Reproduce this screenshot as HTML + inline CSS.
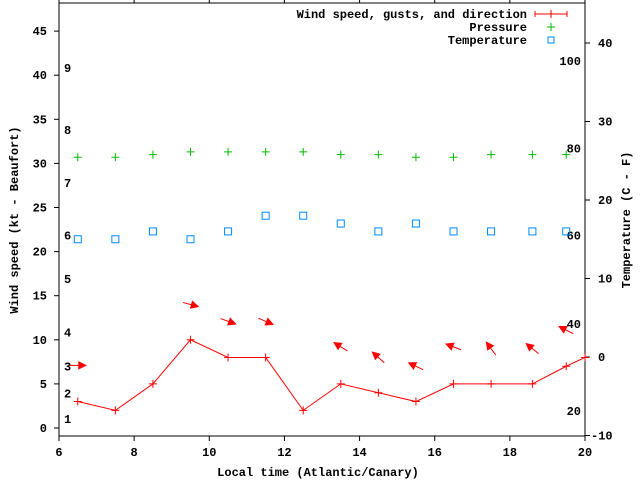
<!DOCTYPE html>
<html><head><meta charset="utf-8">
<style>
html,body{margin:0;padding:0;background:#fff;}
svg{display:block;font-family:"Liberation Mono","DejaVu Sans Mono",monospace;font-weight:bold;font-size:12px;}
</style></head>
<body>
<svg id="chart" width="640" height="480" viewBox="0 0 640 480" xmlns="http://www.w3.org/2000/svg">
<g id="axes"></g>
<g id="marks"></g>
<g id="legend">
  <text x="527" y="18" text-anchor="end">Wind speed, gusts, and direction</text>
  <path d="M535 14H567M535 11V17M567 11V17M551 10V18" stroke="#f00" fill="none"/>
  <text x="527" y="31" text-anchor="end">Pressure</text>
  <path d="M547 27H555M551 23V31" stroke="#0b0" fill="none"/>
  <text x="527" y="44" text-anchor="end">Temperature</text>
  <rect x="548" y="37" width="6" height="6" stroke="#08f" fill="none"/>
</g>
</svg>
<script>
const times = [6.5,7.5,8.5,9.5,10.5,11.5,12.5,13.5,14.5,15.5,16.5,17.5,18.6,19.5,20];
const windSpeed = [3,2,5,10,8,8,2,5,4,3,5,5,5,7,8];
const pressureTimes = [6.5,7.5,8.5,9.5,10.5,11.5,12.5,13.5,14.5,15.5,16.5,17.5,18.6,19.5];
const pressure = [30.7,30.7,31.0,31.3,31.3,31.3,31.3,31.0,31.0,30.7,30.7,31.0,31.0,31.0];
const temperature = [15,15,16,15,16,18,18,17,16,17,16,16,16,16];
const arrowTimes = [6.5,9.5,10.5,11.5,13.5,14.5,15.5,16.5,17.5,18.6,19.5];
const arrowLevel = [7.1,14,12.1,12.1,9.2,8,7,9.2,9,9,11.1];
const arrowAngle = [0,15,20,23,212,222,205,201,234,219,207];
const xTicks = [6,8,10,12,14,16,18,20];
const yTicks = [0,5,10,15,20,25,30,35,40,45];
const tTicks = [-10,0,10,20,30,40];
const beaufortLabels = ["1","2","3","4","5","6","7","8","9"];
const beaufortKt = [1,3.9,7,10.8,16.9,21.8,27.8,33.8,40.8];
const pressureLabels = ["20","40","60","80","100"];
const pressureLabelKt = [1.9,11.8,21.8,31.7,41.6];

const L=59,R=585,T=3,B=436;
const xs=t=>L+(t-6)*(R-L)/14;
const ys=v=>428-v*8.82;
const yt=c=>357-c*7.85;
const NS="http://www.w3.org/2000/svg";
function el(parent,tag,attrs,text){const e=document.createElementNS(NS,tag);for(const k in attrs)e.setAttribute(k,attrs[k]);if(text!==undefined)e.textContent=text;parent.appendChild(e);return e;}
const ax=document.getElementById('axes'), mk=document.getElementById('marks');

let e=el(ax,'rect',{x:L,y:T,width:R-L,height:B-T,fill:'none',stroke:'#000'});


xTicks.forEach(t=>{
  const x=xs(t);
  let tk=el(ax,'path',{d:`M${x} ${B}V${B+5}M${x} ${T}V0`,stroke:'#000'});
  
  
  let lb=el(ax,'text',{x:x,y:B+20,'text-anchor':'middle'},String(t));
  
  
});
yTicks.forEach(v=>{
  const y=ys(v);
  let tk=el(ax,'path',{d:`M${L-5} ${y}H${L}`,stroke:'#000'});
  
  
  let lb=el(ax,'text',{x:47,y:y+4,'text-anchor':'end'},String(v));
  
  
});
tTicks.forEach(c=>{
  const y=yt(c);
  let tk=el(ax,'path',{d:`M${R} ${y}H${R+5}`,stroke:'#000'});
  
  
  let lb=el(ax,'text',{x:c<0?591:(c===0?598:598),y:y+4},String(c));
  
  
});
beaufortLabels.forEach((s,i)=>{
  let lb=el(ax,'text',{x:64,y:ys(beaufortKt[i])+4},s);
  
  
});
pressureLabels.forEach((s,i)=>{
  let lb=el(ax,'text',{x:581,y:ys(pressureLabelKt[i])+4,'text-anchor':'end'},s);
  
  
});
e=el(ax,'text',{x:318,y:476,'text-anchor':'middle'},'Local time (Atlantic/Canary)');


e=el(ax,'text',{x:0,y:0,'text-anchor':'middle',transform:'translate(18,220) rotate(-90)'},'Wind speed (kt - Beaufort)');


e=el(ax,'text',{x:0,y:0,'text-anchor':'middle',transform:'translate(630,220) rotate(-90)'},'Temperature (C - F)');



// wind line
e=el(mk,'polyline',{points:times.map((t,i)=>xs(t)+','+ys(windSpeed[i])).join(' '),fill:'none',stroke:'#f00'});


times.forEach((t,i)=>{
  const x=xs(t),y=ys(windSpeed[i]);
  let p=el(mk,'path',{d:`M${x-4} ${y}H${x+4}M${x} ${y-4}V${y+4}`,stroke:'#f00'});
  
  
});
pressureTimes.forEach((t,i)=>{
  const x=xs(t),y=ys(pressure[i]);
  let p=el(mk,'path',{d:`M${x-4} ${y}H${x+4}M${x} ${y-4}V${y+4}`,stroke:'#0b0'});
  
  
});
pressureTimes.forEach((t,i)=>{
  const x=xs(t),y=yt(temperature[i]);
  let p=el(mk,'rect',{x:x-3.5,y:y-3.5,width:7,height:7,fill:'none',stroke:'#08f'});
  
  
});
arrowTimes.forEach((t,i)=>{
  const cx=xs(t),cy=ys(arrowLevel[i]),a=arrowAngle[i]*Math.PI/180;
  const dx=Math.cos(a),dy=Math.sin(a);
  const tx=cx-dx*8,ty=cy-dy*8,hx=cx+dx*8,hy=cy+dy*8;
  const bx=hx-dx*7,by=hy-dy*7,px=-dy*3.5,py=dx*3.5;
  const g=el(mk,'g',{});
  
  
  el(g,'line',{x1:tx,y1:ty,x2:bx,y2:by,stroke:'#f00'});
  el(g,'polygon',{points:`${hx},${hy} ${bx+px},${by+py} ${bx-px},${by-py}`,fill:'#f00',stroke:'#f00'});
});
</script>
</body></html>
